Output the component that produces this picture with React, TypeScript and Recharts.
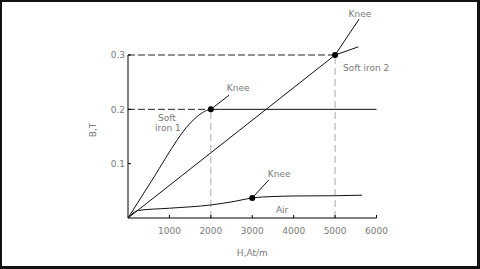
import { LineChart, Line, XAxis, YAxis, ReferenceLine, ReferenceDot } from 'recharts'

// magnetising force H (At/m) vs flux density B (T)
const hTicks = [1000, 2000, 3000, 4000, 5000, 6000]
const bTicks = [0.1, 0.2, 0.3]

const softIron1 = [
  { h: 0, b: 0 },
  { h: 600, b: 0.072 },
  { h: 1200, b: 0.145 },
  { h: 1400, b: 0.166 },
  { h: 1600, b: 0.182 },
  { h: 1800, b: 0.194 },
  { h: 2000, b: 0.2 },
  { h: 6000, b: 0.2 },
]

const softIron2 = [
  { h: 0, b: 0 },
  { h: 5000, b: 0.3 },
  { h: 5560, b: 0.315 },
]

const air = [
  { h: 0, b: 0 },
  { h: 250, b: 0.014 },
  { h: 1000, b: 0.018 },
  { h: 2000, b: 0.024 },
  { h: 2600, b: 0.031 },
  { h: 3000, b: 0.037 },
  { h: 3500, b: 0.0395 },
  { h: 4000, b: 0.0405 },
  { h: 5000, b: 0.041 },
  { h: 5650, b: 0.042 },
]

// knee points and where their "Knee" captions sit
const knees = [
  { h: 2000, b: 0.2 },
  { h: 5000, b: 0.3 },
  { h: 3000, b: 0.037 },
]
const kneeLeaders = [
  { h: 2440, b: 0.226 },
  { h: 5580, b: 0.366 },
  { h: 3400, b: 0.07 },
]
const kneeCaptions = [
  { h: 2660, b: 0.24 },
  { h: 5600, b: 0.376 },
  { h: 3650, b: 0.081 },
]

const curveCaptions = [
  { text: 'Soft', h: 940, b: 0.184 },
  { text: 'iron 1', h: 965, b: 0.166 },
  { text: 'Soft iron 2', h: 5750, b: 0.276 },
  { text: 'Air', h: 3720, b: 0.0147 },
]

const textGrey = '#7a7a7a'
const font = 'DejaVu Sans, sans-serif'

// plain grey text centred on a data point
function Caption({ h, b, text, angle = 0 }: { h: number; b: number; text: string; angle?: number }) {
  return (
    <ReferenceDot
      key={text + h + b}
      x={h}
      y={b}
      r={0}
      ifOverflow="visible"
      label={{
        position: 'center',
        content: ({ viewBox }: any) => {
          const cx = viewBox.x + (viewBox.width || 0) / 2
          const cy = viewBox.y + (viewBox.height || 0) / 2
          return (
            <text
              x={cx}
              y={cy}
              fill={textGrey}
              fontSize={9}
              fontFamily={font}
              textAnchor="middle"
              dominantBaseline="central"
              transform={angle ? `rotate(${angle} ${cx} ${cy})` : undefined}
            >
              {text}
            </text>
          )
        },
      }}
    />
  )
}

export default function App() {
  return (
    <div style={{ position: 'absolute', left: 0, top: 0, width: 480, height: 269, background: '#fff', fontFamily: font }}>
      <LineChart
        width={480}
        height={269}
        margin={{ top: 38.7, right: 103.5, bottom: 21, left: 88 }}
        style={{ fontFamily: font }}
      >
        <XAxis
          type="number"
          dataKey="h"
          domain={[0, 6000]}
          ticks={hTicks}
          stroke="#000"
          tickSize={-3}
          tickMargin={13}
          tick={{ fill: textGrey, fontSize: 9 }}
          label={{ value: 'H,At/m', position: 'bottom', offset: 2, fill: textGrey, fontSize: 9 }}
        />
        {/* headroom above 0.3 so soft iron 2 can run past its knee; the axis line itself stops at 0.3 */}
        <YAxis
          type="number"
          dataKey="b"
          width={40}
          domain={[0, 0.33]}
          ticks={bTicks}
          tickFormatter={(v: number) => v.toFixed(1)}
          axisLine={false}
          stroke="#000"
          tickSize={-3}
          tickMargin={6}
          tick={{ fill: textGrey, fontSize: 9 }}
        />
        <ReferenceLine segment={[{ x: 0, y: 0 }, { x: 0, y: 0.3 }]} stroke="#000" />

        <ReferenceLine segment={[{ x: 0, y: 0.3 }, { x: 5000, y: 0.3 }]} stroke="#222" strokeDasharray="7 3" />
        <ReferenceLine segment={[{ x: 0, y: 0.2 }, { x: 2000, y: 0.2 }]} stroke="#222" strokeDasharray="7 3" />
        <ReferenceLine segment={[{ x: 2000, y: 0 }, { x: 2000, y: 0.2 }]} stroke="#aaa" strokeDasharray="7 4" />
        <ReferenceLine segment={[{ x: 5000, y: 0 }, { x: 5000, y: 0.3 }]} stroke="#aaa" strokeDasharray="7 4" />

        <Line data={softIron1} dataKey="b" type="monotone" stroke="#111" strokeWidth={1} dot={false} isAnimationActive={false} />
        <Line data={softIron2} dataKey="b" type="linear" stroke="#111" strokeWidth={1} dot={false} isAnimationActive={false} />
        <Line data={air} dataKey="b" type="monotone" stroke="#111" strokeWidth={1} dot={false} isAnimationActive={false} />

        {knees.map((k, i) => (
          <ReferenceLine
            key={'leader' + i}
            segment={[kneeLeaders[i], k].map((p) => ({ x: p.h, y: p.b }))}
            stroke="#111"
            ifOverflow="visible"
          />
        ))}
        {knees.map((k, i) => (
          <ReferenceDot key={'knee' + i} x={k.h} y={k.b} r={3} fill="#000" stroke="none" ifOverflow="visible" />
        ))}
        {kneeCaptions.map((c) => Caption({ h: c.h, b: c.b, text: 'Knee' }))}
        {curveCaptions.map((c) => Caption({ h: c.h, b: c.b, text: c.text }))}
        {Caption({ h: -845, b: 0.162, text: 'B,T', angle: -90 })}
      </LineChart>
      <div
        style={{
          position: 'absolute',
          inset: 0,
          boxSizing: 'border-box',
          border: '2px solid #111',
          borderRightWidth: 3,
          borderBottomWidth: 3,
          pointerEvents: 'none',
        }}
      />
    </div>
  )
}
